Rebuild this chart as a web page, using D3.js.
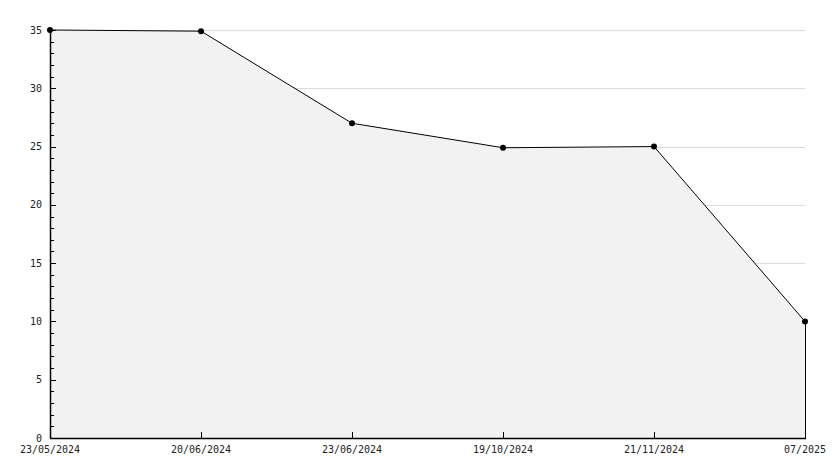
<!DOCTYPE html>
<html><head><meta charset="utf-8">
<script src="https://cdn.jsdelivr.net/npm/d3@7/dist/d3.min.js"></script>
<style>body{margin:0;background:#fff}svg{display:block}</style>
</head><body>
<svg id="c" width="834" height="468"></svg>
<script>
const categories = ["23/05/2024","20/06/2024","23/06/2024","19/10/2024","21/11/2024","07/2025"];
const values = [35, 34.9, 27, 24.9, 25, 10];
const yTicks = [0,5,10,15,20,25,30,35];

(function(){
const svg = d3.select("#c");
const mLeft = 50, mRight = 805, mTop = 30, mBottom = 438;
const x = d3.scalePoint().domain(categories).range([mLeft, mRight]);
const y = d3.scaleLinear().domain([0, 35]).range([mBottom, mTop]);
const data = categories.map((c,i)=>({c, v: values[i]}));
const font = "'DejaVu Sans Mono', monospace";

// grid
svg.append("g").selectAll("line").data(yTicks.filter(d=>d>0)).join("line")
  .attr("x1", mLeft).attr("x2", mRight)
  .attr("y1", d=>Math.round(y(d))+0.5).attr("y2", d=>Math.round(y(d))+0.5)
  .attr("stroke", "#dcdcdc").attr("stroke-width", 1);

// area
const area = d3.area().x(d=>x(d.c)).y0(mBottom).y1(d=>y(d.v));
svg.append("path").datum(data).attr("d", area).attr("fill", "#f2f2f2");

// right edge
svg.append("line").attr("x1", mRight+0.5).attr("x2", mRight+0.5)
  .attr("y1", y(values[values.length-1])).attr("y2", mBottom)
  .attr("stroke", "#000").attr("stroke-width", 1);

// line
const line = d3.line().x(d=>x(d.c)).y(d=>y(d.v));
svg.append("path").datum(data).attr("d", line).attr("fill", "none")
  .attr("stroke", "#000").attr("stroke-width", 1);

// y axis
const yAxisG = svg.append("g");
yAxisG.append("line").attr("x1", mLeft+0.5).attr("x2", mLeft+0.5).attr("y1", mTop).attr("y2", mBottom)
  .attr("stroke", "#000").attr("stroke-width", 1.5);
const minor = d3.range(0, 36, 1);
yAxisG.selectAll("line.minor").data(minor).join("line").attr("class","minor")
  .attr("x1", mLeft).attr("x2", d=> d%5===0 ? mLeft+6 : mLeft+4)
  .attr("y1", d=>Math.round(y(d))+0.5).attr("y2", d=>Math.round(y(d))+0.5)
  .attr("stroke", "#000").attr("stroke-width", 1);
yAxisG.selectAll("text").data(yTicks).join("text")
  .attr("x", 42).attr("y", d=>y(d)).attr("dy","0.35em")
  .attr("text-anchor","end").attr("font-family", font).attr("font-size", 10)
  .attr("fill", "#222")
  .text(d=>d);

// x axis
const xAxisG = svg.append("g");
xAxisG.append("line").attr("x1", mLeft).attr("x2", mRight+1).attr("y1", mBottom+0.5).attr("y2", mBottom+0.5)
  .attr("stroke", "#000").attr("stroke-width", 1.5);
xAxisG.selectAll("line.t").data(categories).join("line").attr("class","t")
  .attr("x1", d=>Math.round(x(d))+0.5).attr("x2", d=>Math.round(x(d))+0.5)
  .attr("y1", mBottom-6).attr("y2", mBottom)
  .attr("stroke", "#000").attr("stroke-width", 1);
xAxisG.selectAll("text").data(categories).join("text")
  .attr("x", d=>x(d)).attr("y", 449).attr("dy","0.35em")
  .attr("text-anchor","middle").attr("font-family", font).attr("font-size", 10)
  .attr("fill", "#222")
  .text(d=>d);

// markers
svg.append("g").selectAll("circle").data(data).join("circle")
  .attr("cx", d=>x(d.c)).attr("cy", d=>y(d.v)).attr("r", 3)
  .attr("fill", "#000");
})();
</script>
</body></html>
